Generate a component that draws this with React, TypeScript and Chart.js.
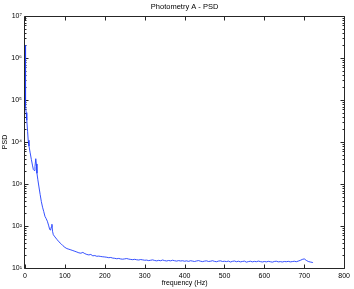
import React, { useEffect, useRef } from "react";
import { Chart, registerables } from "chart.js";

Chart.register(...registerables);

const TITLE = "Photometry A - PSD";
const X_LABEL = "frequency (Hz)";
const Y_LABEL = "PSD";
const X_TICKS = [0, 100, 200, 300, 400, 500, 600, 700, 800];
const Y_DECADES = [1, 2, 3, 4, 5, 6, 7];

const freqLow = [0, 0.7, 1.4, 2.1, 3, 4, 5, 6.5, 8, 10, 13, 16, 19, 21, 23, 25, 27, 28.5, 30, 32, 35, 38, 41, 44, 47, 50, 53, 56, 59, 62, 64, 66, 67.5, 69, 71, 75, 80, 85, 90, 95, 100, 105, 110, 115, 120, 125, 130, 135, 140, 145, 150, 155, 160, 165, 170, 175, 180, 185, 190, 195, 200];
const psdLow = [2.0e6, 5.0e5, 1.5e5, 7.0e4, 5.0e4, 4.0e4, 3.3e4, 1.8e4, 1.1e4, 8000, 5500, 3800, 2700, 2200, 2100, 2600, 4000, 3000, 1800, 1300, 850, 560, 380, 280, 220, 170, 150, 130, 105, 82, 80, 95, 110, 75, 62, 55, 48, 42, 38, 34, 31, 29, 28, 27, 26, 25, 24, 23, 22.5, 23.5, 22, 21, 20.5, 21, 19.5, 19.8, 19, 19.2, 18.8, 18.5, 18.3];

const freqHigh = [205, 210, 215, 220, 225, 230, 235, 240, 245, 250, 255, 260, 265, 270, 275, 280, 285, 290, 295, 300,
  305, 310, 315, 320, 325, 330, 335, 340, 345, 350, 355, 360, 365, 370, 375, 380, 385, 390, 395, 400,
  405, 410, 415, 420, 425, 430, 435, 440, 445, 450, 455, 460, 465, 470, 475, 480, 485, 490, 495, 500,
  505, 510, 515, 520, 525, 530, 535, 540, 545, 550, 555, 560, 565, 570, 575, 580, 585, 590, 595, 600,
  605, 610, 615, 620, 625, 630, 635, 640, 645, 650, 655, 660, 665, 670, 675, 680, 685, 690, 695, 700, 705, 710, 715, 720, 722];
const psdHigh = [18.0, 17.6, 17.8, 17.2, 17.0, 16.6, 16.9, 16.4, 16.2, 16.5, 16.8, 16.3, 16.0, 15.8, 16.1, 15.7, 15.5, 15.9, 15.6, 15.3,
  15.4, 15.0, 15.3, 15.6, 15.1, 14.8, 15.2, 14.9, 15.5, 15.0, 14.7, 15.1, 14.8, 15.3, 14.9, 14.6, 15.0, 14.7, 14.9, 14.5,
  14.8, 14.4, 14.9, 14.6, 14.3, 14.7, 15.0, 14.5, 14.2, 14.6, 14.8, 14.3, 14.5, 14.9, 14.4, 14.1, 14.6, 14.8, 14.3, 14.5,
  14.2, 14.6, 13.9, 14.4, 14.7, 14.1, 14.5, 14.0, 14.3, 14.6, 13.8, 14.2, 14.5, 14.0, 14.4, 14.1, 14.6, 14.2, 13.9, 14.3,
  14.0, 14.4, 14.1, 13.8, 14.3, 14.5, 14.0, 14.2, 13.9, 14.3, 14.1, 14.4, 14.0, 14.2, 14.5, 14.1, 14.6, 15.2, 16.0, 16.5, 15.2, 14.3, 13.9, 13.6, 13.4];

const FONT = "'Liberation Sans', Arial, Helvetica, sans-serif";
const SUP = ["⁰", "¹", "²", "³", "⁴", "⁵", "⁶", "⁷", "⁸", "⁹"];

const framePlugin = {
  id: "matlabFrame",
  beforeDatasetsDraw(chart: any) {
    const { ctx, chartArea } = chart;
    const { left, right, top, bottom } = chartArea;
    const xs = chart.scales.x;
    const ys = chart.scales.y;
    ctx.save();
    ctx.strokeStyle = "#262626";
    ctx.lineWidth = 1;
    ctx.beginPath();
    const L = Math.round(left) - 0.5, R = Math.round(right) + 0.5;
    const T = Math.round(top) + 0.5, B = Math.round(bottom) + 0.5;
    ctx.rect(L, T, R - L, B - T);
    X_TICKS.forEach((v) => {
      const px = Math.round(xs.getPixelForValue(v)) + 0.5;
      ctx.moveTo(px, B); ctx.lineTo(px, B - 4);
      ctx.moveTo(px, T); ctx.lineTo(px, T + 4);
    });
    Y_DECADES.forEach((e, i) => {
      const py = Math.round(ys.getPixelForValue(Math.pow(10, e))) + 0.5;
      ctx.moveTo(L, py); ctx.lineTo(L + 4, py);
      ctx.moveTo(R, py); ctx.lineTo(R - 4, py);
      if (i < Y_DECADES.length - 1) {
        for (let m = 2; m <= 9; m++) {
          const pm = Math.round(ys.getPixelForValue(m * Math.pow(10, e))) + 0.5;
          ctx.moveTo(L, pm); ctx.lineTo(L + 2, pm);
          ctx.moveTo(R, pm); ctx.lineTo(R - 2, pm);
        }
      }
    });
    ctx.stroke();
    ctx.fillStyle = "#000";
    ctx.font = `7.5px ${FONT}`;
    ctx.textAlign = "center";
    ctx.textBaseline = "middle";
    ctx.fillText(TITLE, (left + right) / 2, 7);
    ctx.restore();
  },
};

export default function App() {
  const ref = useRef<HTMLCanvasElement>(null);
  useEffect(() => {
    document.body.style.margin = "0";
    const allF = [...freqLow, ...freqHigh];
    const allP = [...psdLow, ...psdHigh];
    const points = allF.map((f, i) => ({ x: f, y: allP[i] }));
    const chart = new Chart(ref.current!, {
      type: "line",
      data: {
        datasets: [
          {
            data: points,
            borderColor: "#1f3dff",
            borderWidth: 0.9,
            pointRadius: 0,
            tension: 0,
            fill: false,
          },
        ],
      },
      options: {
        animation: false,
        responsive: false,
        layout: { padding: { top: 16, right: 9, left: 0, bottom: 0 } },
        plugins: { legend: { display: false }, tooltip: { enabled: false }, title: { display: false } },
        scales: {
          x: {
            type: "linear",
            min: 0,
            max: 800,
            grid: { display: false, drawTicks: false },
            border: { display: false },
            ticks: {
              stepSize: 100,
              autoSkip: false,
              maxRotation: 0,
              padding: 4,
              color: "#000",
              font: { family: FONT, size: 7 },
            },
            title: {
              display: true,
              text: X_LABEL,
              color: "#000",
              font: { family: FONT, size: 7 },
              padding: { top: 0, bottom: 2 },
            },
            afterFit: (s: any) => { s.height = 21; },
          },
          y: {
            type: "logarithmic",
            min: 10,
            max: 1e7,
            grid: { display: false, drawTicks: false },
            border: { display: false },
            afterBuildTicks: (s: any) => {
              s.ticks = Y_DECADES.map((e) => ({ value: Math.pow(10, e) }));
            },
            ticks: {
              padding: 3,
              color: "#000",
              font: { family: FONT, size: 7 },
              callback: (v: any) => "10" + SUP[Math.round(Math.log10(Number(v)))],
            },
            title: {
              display: true,
              text: Y_LABEL,
              color: "#000",
              font: { family: FONT, size: 7 },
              padding: { top: 1, bottom: 0 },
            },
            afterFit: (s: any) => { s.width = 25; },
          },
        },
      },
      plugins: [framePlugin],
    });
    return () => chart.destroy();
  }, []);
  return <canvas ref={ref} width={354} height={289} />;
}
